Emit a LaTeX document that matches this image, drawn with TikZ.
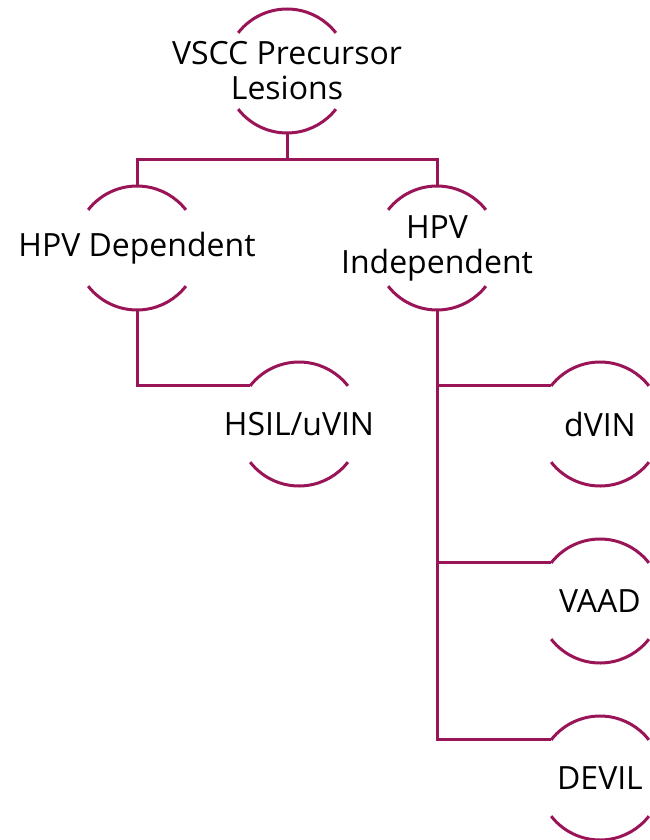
\documentclass[tikz,border=0pt]{standalone}
\usepackage{fontspec}
\setmainfont{Open Sans}
\usetikzlibrary{positioning, calc}
\definecolor{lesionplum}{HTML}{9A1458}

\begin{document}
\begin{tikzpicture}[
  x=1pt, y=1pt,
  lesion/.style={circle, minimum size=124pt, inner sep=0pt, outer sep=0pt},
  lbl/.style={align=center, text=black, font=\fontsize{32}{35}\selectfont},
  ln/.style={draw=lesionplum, line width=3pt}
]
\useasboundingbox (0,0) rectangle (649,-840);

\node[lesion, label={[lbl]center:VSCC Precursor\\Lesions}] (root) at (287,-71) {};
\node[lesion, label={[lbl]center:HPV Dependent}] (dep) at (137,-248) {};
\node[lesion, label={[lbl]center:HPV\\Independent}] (indep) at (437,-248) {};

\node[lesion, label={[lbl]center:HSIL/uVIN}] (hsil) at (299,-424) {};
\node[lesion, label={[lbl]center:dVIN}] (dvin) at (600,-424) {};
\node[lesion, label={[lbl]center:VAAD}, below=53pt of dvin] (vaad) {};
\node[lesion, label={[lbl]center:DEVIL}, below=53pt of vaad] (devil) {};

% open circles: top and bottom arcs only
\foreach \n in {root,dep,indep,hsil,dvin,vaad,devil} {
  \draw[ln] (\n.142) arc[start angle=142, end angle=38, radius=62pt];
  \draw[ln] (\n.218) arc[start angle=218, end angle=322, radius=62pt];
}

% tree
\coordinate (split) at ($(root.south)+(0,-26)$);
\draw[ln] (root.south) -- (split);
\draw[ln] (dep.north) |- (split) -| (indep.north);
\draw[ln] (dep.south) |- (hsil.142);
\draw[ln] (indep.south) |- (devil.142);
\draw[ln] (indep.south |- dvin.142) -- (dvin.142);
\draw[ln] (indep.south |- vaad.142) -- (vaad.142);

\end{tikzpicture}
\end{document}
